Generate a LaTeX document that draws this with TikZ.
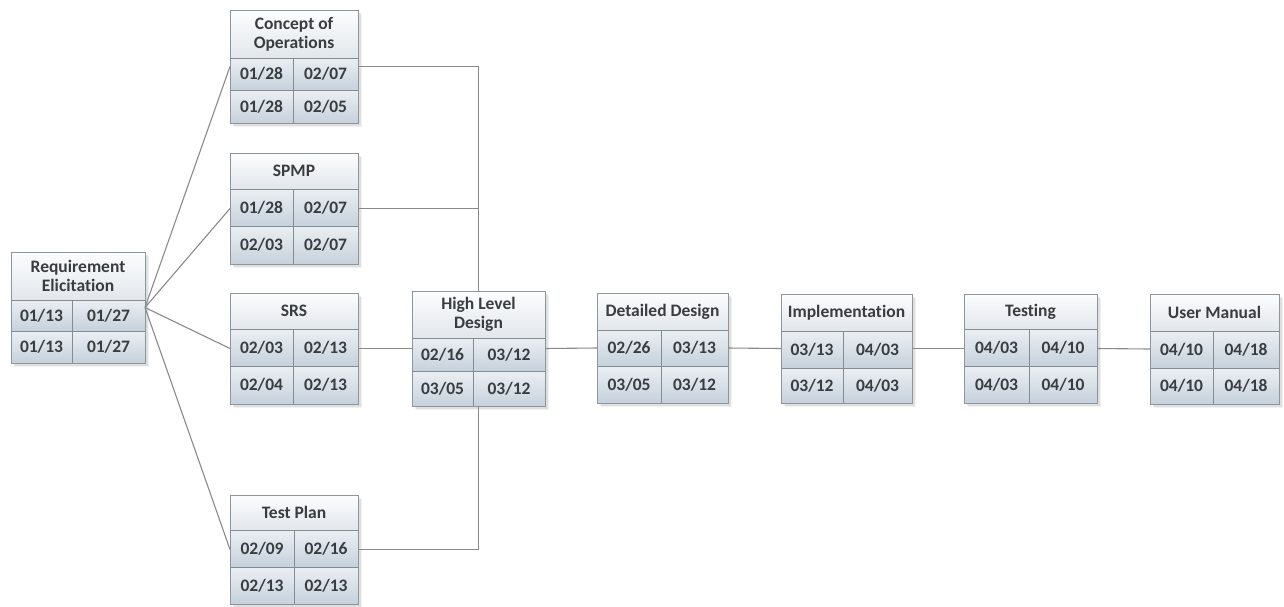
\documentclass[tikz,border=0pt]{standalone}
\usepackage{fontspec}
\setmainfont[Ligatures=NoCommon]{Carlito}
\definecolor{titletop}{HTML}{FCFDFE}
\definecolor{titlebot}{HTML}{E2E7EC}
\definecolor{celltop}{HTML}{EBEFF3}
\definecolor{cellbot}{HTML}{C6D1DC}
\definecolor{framecol}{HTML}{8E959B}
\definecolor{gridcol}{HTML}{848C93}
\definecolor{textcol}{HTML}{3A3D40}
\definecolor{linkcol}{HTML}{8A8A8A}
\tikzset{
  frame/.style={draw=framecol, line width=1pt, inner sep=0pt, outer sep=0pt},
  grid line/.style={draw=gridcol, line width=0.9pt},
  boxtext/.style={text=textcol, font=\fontsize{17.5}{19}\selectfont\bfseries, align=center, inner sep=0pt},
  link/.style={draw=linkcol, line width=1.1pt},
}
% geometry: left/top/right/bottom/title rule/row rule/column rule
\def\setgeom#1/#2/#3/#4/#5/#6/#7\relax{%
  \def\bxa{#1}\def\bya{#2}\def\bxb{#3}\def\byb{#4}%
  \def\byc{#5}\def\byd{#6}\def\bxd{#7}}
% #1 name, #2 geometry, #3 title, #4..#7 dates (row by row)
\newcommand\pertbox[7]{%
  \setgeom#2\relax
  \pgfmathsetmacro\bw{\bxb-\bxa}%
  \pgfmathsetmacro\bh{\byb-\bya}%
  \foreach \s/\o in {1/0.10,2.5/0.08,4/0.05}{%
    \fill[black, opacity=\o] (\bxa+\s,\bya+\s) rectangle (\bxb+\s,\byb+\s);}
  \shade[top color=titletop, bottom color=titlebot] (\bxa,\bya) rectangle (\bxb,\byc);
  \shade[top color=celltop, bottom color=cellbot] (\bxa,\byc) rectangle (\bxb,\byd);
  \shade[top color=celltop, bottom color=cellbot] (\bxa,\byd) rectangle (\bxb,\byb);
  \draw[grid line] (\bxa,\byc) -- (\bxb,\byc) (\bxa,\byd) -- (\bxb,\byd) (\bxd,\byc) -- (\bxd,\byb);
  \node[frame, minimum width=\bw pt, minimum height=\bh pt] (#1)
    at ({(\bxa+\bxb)/2},{(\bya+\byb)/2}) {};
  \node[boxtext] (#1-title) at ({(\bxa+\bxb)/2},{(\bya+\byc)/2}) {#3};
  \node[boxtext] (#1-a) at ({(\bxa+\bxd)/2},{(\byc+\byd)/2}) {#4};
  \node[boxtext] (#1-b) at ({(\bxd+\bxb)/2},{(\byc+\byd)/2}) {#5};
  \node[boxtext] (#1-c) at ({(\bxa+\bxd)/2},{(\byd+\byb)/2}) {#6};
  \node[boxtext] (#1-d) at ({(\bxd+\bxb)/2},{(\byd+\byb)/2}) {#7};
}
\begin{document}
\begin{tikzpicture}[x=1pt, y=-1pt]
\useasboundingbox (0,0) rectangle (1284,606);

% activity boxes
\pertbox{re}{11/252/145/363/300/331/72}{Requirement\\Elicitation}{01/13}{01/27}{01/13}{01/27}
\pertbox{co}{230/10/358/123/58/90/293}{Concept of\\Operations}{01/28}{02/07}{01/28}{02/05}
\pertbox{sp}{230/153/358/264/189/226/293}{SPMP}{01/28}{02/07}{02/03}{02/07}
\pertbox{srs}{230/293/358/404/329/366/293}{SRS}{02/03}{02/13}{02/04}{02/13}
\pertbox{tp}{230/495/358/604/530/567/294}{Test Plan}{02/09}{02/16}{02/13}{02/13}
\pertbox{hld}{412/291/545/406/338/371/473}{High Level\\Design}{02/16}{03/12}{03/05}{03/12}
\pertbox{dd}{597/293/728/403/330/366/661}{Detailed Design}{02/26}{03/13}{03/05}{03/12}
\pertbox{im}{781/294/912/403/331/368/843}{Implementation}{03/13}{04/03}{03/12}{04/03}
\pertbox{te}{964/294/1097/403/329/366/1029}{Testing}{04/03}{04/10}{04/03}{04/10}
\pertbox{um}{1150/294/1279/404/331/368/1213}{User Manual}{04/10}{04/18}{04/10}{04/18}

% dependencies
\foreach \t in {co,sp,srs,tp} \draw[link] (re.east) -- (\t.west);
\draw[link] (co.east) -| (hld.north);
\draw[link] (sp.east) -- (sp.east -| hld.north);
\draw[link] (srs.east) -- (hld.west);
\draw[link] (tp.east) -| (hld.south);
\draw[link] (hld.east) -- (dd.west);
\draw[link] (dd.east) -- (im.west);
\draw[link] (im.east) -- (te.west);
\draw[link] (te.east) -- (um.west);
\end{tikzpicture}
\end{document}
